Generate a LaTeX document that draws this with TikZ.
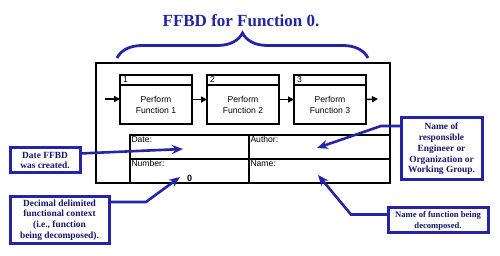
\documentclass[tikz,border=0pt]{standalone}
\usepackage{fontspec}
\setmainfont{Liberation Serif}
\setsansfont{Liberation Sans}
\usepackage{xcolor}
\usepackage{tikz}
\usetikzlibrary{arrows.meta, positioning, decorations.pathreplacing}

\definecolor{ffbdblue}{RGB}{36,36,165}
\definecolor{ffbdnavy}{RGB}{22,22,105}

\begin{document}
\begin{tikzpicture}[
  x=1pt, y=-1pt,
  every node/.style={font=\sffamily\fontsize{8.6}{11}\selectfont, outer sep=0pt},
  hdr/.style={rectangle, draw, line width=1.6pt, minimum width=72pt, minimum height=10pt, inner xsep=3pt, inner ysep=0pt, text width=66pt, align=left},
  fnbox/.style={rectangle, draw, line width=1.6pt, minimum width=72pt, minimum height=39pt, align=center},
  cell/.style={rectangle, draw, line width=1.6pt, minimum height=24pt},
  celltxt/.style={anchor=north west, inner sep=1.5pt},
  callout/.style={rectangle, draw=ffbdblue, line width=3pt, fill=white, text=ffbdnavy, align=center, inner sep=2pt, font=\rmfamily\bfseries\fontsize{9.4}{10.8}\selectfont},
  flow/.style={line width=1.4pt, -{Triangle[length=6pt, width=6pt]}},
  pointer/.style={draw=ffbdblue, line width=2.6pt, -{Stealth[length=11pt, width=9pt]}},
  topbrace/.style={decorate, decoration={brace, amplitude=25pt}, draw=ffbdblue, line width=2.8pt},
  node distance=15pt,
]
  \path[use as bounding box, fill=white] (0,0) rectangle (500,256);

  \node[font=\rmfamily\bfseries\fontsize{17}{20}\selectfont, text=ffbdblue] (title) at (241,21) {FFBD for Function 0.};
  \coordinate (bl) at (117,58);
  \coordinate (br) at (368,58);
  \draw[topbrace] (bl) -- (br);

  \node[draw, line width=1.8pt, minimum width=294pt, minimum height=120pt] (frame) at (243,123) {};

  \node[hdr] (h1) at (156,80) {1};
  \node[fnbox, below=0pt of h1] (f1) {Perform\\Function 1};
  \node[hdr, right=of h1] (h2) {2};
  \node[fnbox, below=0pt of h2] (f2) {Perform\\Function 2};
  \node[hdr, right=of h2] (h3) {3};
  \node[fnbox, below=0pt of h3] (f3) {Perform\\Function 3};

  \coordinate (in) at (105,99);
  \coordinate (out) at (378,99);
  \draw[flow] (in) -- (in -| f1.west);
  \draw[flow] ([yshift=5pt]f1.east) -- ([yshift=5pt]f2.west);
  \draw[flow] ([yshift=5pt]f2.east) -- ([yshift=5pt]f3.west);
  \draw[flow] ([yshift=5pt]f3.east) -- (out);

  \node[cell, minimum width=119pt] (date) at (189.5,147) {};
  \node[cell, minimum width=141pt, right=0pt of date] (author) {};
  \node[cell, minimum width=119pt, below=0pt of date] (number) {};
  \node[cell, minimum width=141pt, right=0pt of number] (name) {};
  \node[celltxt] (tdate) at (date.north west) {Date:};
  \node[celltxt] (tauthor) at (author.north west) {Author:};
  \node[celltxt] (tnumber) at (number.north west) {Number:};
  \node[celltxt] (tname) at (name.north west) {Name:};
  \node[anchor=south, inner sep=1.5pt, font=\sffamily\bfseries\fontsize{9}{10}\selectfont] (zero) at (number.south) {0};

  \node[callout, minimum width=70pt, minimum height=25pt] (dt) at (45,160.5) {Date FFBD\\was created.};
  \node[callout, minimum width=81pt, minimum height=62pt] (eng) at (441.5,149) {Name of\\responsible\\Engineer or\\Organization or\\Working Group.};
  \node[callout, minimum width=99pt, minimum height=46pt] (dec) at (59.5,220) {Decimal delimited\\functional context\\(i.e., function\\being decomposed).};
  \node[callout, minimum width=100pt, minimum height=25pt, font=\rmfamily\bfseries\fontsize{8.6}{10.8}\selectfont] (nm) at (438,220.5) {Name of function being\\decomposed.};

  \coordinate (datept) at (183,149);
  \coordinate (authpt) at (317,148);
  \coordinate (numpt) at (180,177);
  \coordinate (namept) at (318,175);
  \draw[pointer] ([yshift=7pt]dt.east) -- (datept);
  \draw[pointer] ([yshift=-8pt]eng.north west) -- ++(-20,0) -- (authpt);
  \draw[pointer] ([yshift=-5pt]dec.north east) -- ++(37,0) -- (numpt);
  \draw[pointer] ([yshift=6pt]nm.west) -- ++(-37,0) -- (namept);
\end{tikzpicture}
\end{document}
